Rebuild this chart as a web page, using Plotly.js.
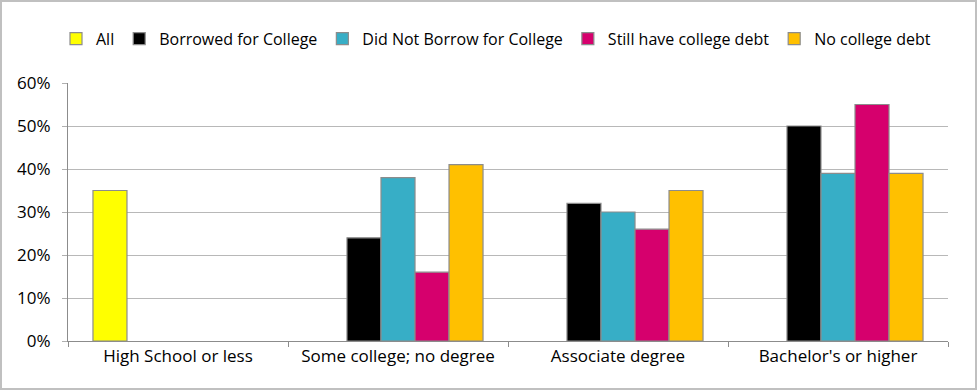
<!DOCTYPE html>
<html><head><meta charset="utf-8">
<script src="https://cdn.plot.ly/plotly-3.0.1.min.js"></script>
<style>
html,body{margin:0;padding:0;background:#fff;}
#chart{width:973px;height:386px;border:2px solid #c0c0c0;}
</style></head>
<body><div id="chart"></div>
<script>
const categories = ["High School or less", "Some college; no degree", "Associate degree", "Bachelor's or higher"];
const seriesNames = ["All", "Borrowed for College", "Did Not Borrow for College", "Still have college debt", "No college debt"];
const allVals = [0.35, null, null, null];
const borrowedVals = [null, 0.24, 0.32, 0.50];
const notBorrowedVals = [null, 0.38, 0.30, 0.39];
const stillDebtVals = [null, 0.16, 0.26, 0.55];
const noDebtVals = [null, 0.41, 0.35, 0.39];
const colors = ["#FFFF00", "#000000", "#37AEC6", "#D6006D", "#FFC000"];

const seriesVals = [allVals, borrowedVals, notBorrowedVals, stillDebtVals, noDebtVals];
const font = "'Open Sans', 'DejaVu Sans', sans-serif";
const traces = seriesVals.map((v, i) => ({
  type: "bar",
  name: seriesNames[i],
  x: categories,
  y: v,
  marker: {color: colors[i], line: {color: "#8c8c8c", width: 1.2}},
  hoverinfo: "skip"
}));

const layout = {
  width: 973, height: 386,
  margin: {l: 66, r: 27, t: 81, b: 47, autoexpand: false},
  paper_bgcolor: "#fff", plot_bgcolor: "#fff",
  barmode: "group", bargap: 0.227, bargroupgap: 0,
  font: {family: font, size: 17, color: "#000"},
  showlegend: true,
  legend: {orientation: "h", x: 0.0555, xref: "container", xanchor: "left",
           y: 0.905, yref: "container", yanchor: "middle",
           font: {family: font, size: 16, color: "#000"}, itemwidth: 30, traceorder: "normal"},
  xaxis: {type: "category", showline: true, linecolor: "#8c8c8c", linewidth: 1,
          ticks: "outside", tickson: "boundaries", ticklen: 5, tickcolor: "#8c8c8c",
          showgrid: false, tickfont: {size: 17}, fixedrange: true, automargin: false},
  yaxis: {range: [0, 0.6], dtick: 0.1, tickformat: ".0%", showline: true, linecolor: "#8c8c8c",
          linewidth: 1, ticks: "outside", ticklen: 5, tickcolor: "#b0b0b0",
          ticklabelstandoff: 8, automargin: false,
          showgrid: true, gridcolor: "#b8b8b8", gridwidth: 1, zeroline: false,
          tickfont: {size: 17}, fixedrange: true}
};
Plotly.newPlot("chart", traces, layout, {displayModeBar: false, staticPlot: true});
</script></body></html>
